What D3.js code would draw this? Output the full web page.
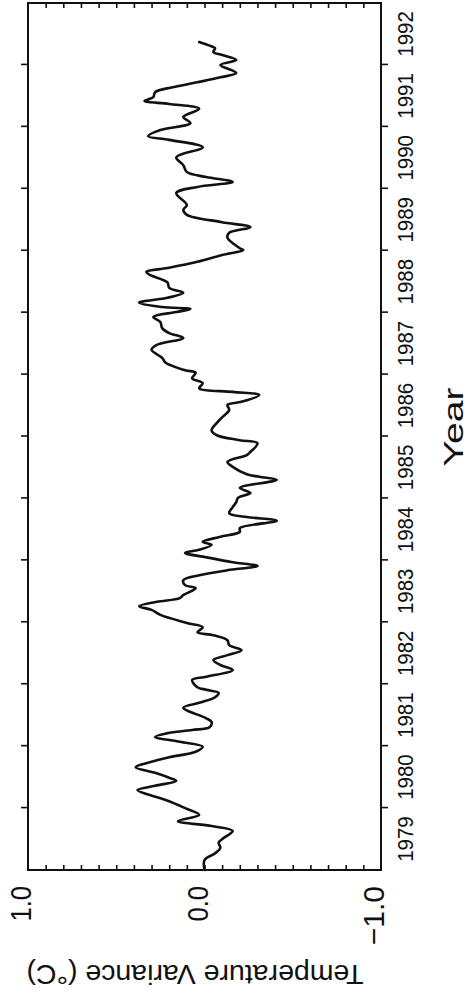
<!DOCTYPE html>
<html>
<head>
<meta charset="utf-8">
<script src="https://cdn.jsdelivr.net/npm/d3@7"></script>
<style>
  html, body { margin: 0; padding: 0; background: #fff; }
  svg { display: block; }
  text { font-family: "Liberation Sans", Arial, Helvetica, sans-serif; fill: #111; }
</style>
</head>
<body>
<script>
// ---- data ----
const timeYears = [
  1979.00, 1979.16, 1979.27, 1979.36, 1979.44, 1979.52, 1979.63, 1979.71, 1979.79, 1979.89,
  1980.00, 1980.13, 1980.21, 1980.29, 1980.36, 1980.44, 1980.49, 1980.57, 1980.66, 1980.74,
  1980.82, 1980.91, 1980.99, 1981.07, 1981.15, 1981.21, 1981.26, 1981.31, 1981.39, 1981.45,
  1981.62, 1981.70, 1981.79, 1981.86, 1981.91, 1981.95, 1982.07, 1982.12, 1982.23, 1982.31,
  1982.39, 1982.47, 1982.55, 1982.63, 1982.71, 1982.79, 1982.84, 1982.92, 1982.99, 1983.12,
  1983.20, 1983.26, 1983.33, 1983.39, 1983.44, 1983.55, 1983.60, 1983.68, 1983.76, 1983.84,
  1983.91, 1983.97, 1984.05, 1984.12, 1984.17, 1984.25, 1984.30, 1984.38, 1984.46, 1984.52,
  1984.64, 1984.70, 1984.76, 1984.86, 1984.94, 1985.01, 1985.09, 1985.17, 1985.30, 1985.35,
  1985.39, 1985.51, 1985.59, 1985.70, 1985.75, 1985.89, 1985.94, 1986.02, 1986.10, 1986.22,
  1986.31, 1986.43, 1986.51, 1986.56, 1986.67, 1986.72, 1986.78, 1986.86, 1986.94, 1987.03,
  1987.07, 1987.19, 1987.27, 1987.40, 1987.48, 1987.59, 1987.67, 1987.75, 1987.85, 1987.93,
  1988.01, 1988.06, 1988.09, 1988.16, 1988.24, 1988.32, 1988.40, 1988.49, 1988.61, 1988.66,
  1988.72, 1988.82, 1988.93, 1989.01, 1989.04, 1989.21, 1989.29, 1989.38, 1989.46, 1989.58,
  1989.66, 1989.74, 1989.93, 1990.03, 1990.11, 1990.19, 1990.27, 1990.38, 1990.51, 1990.67,
  1990.79, 1990.85, 1990.95, 1991.06, 1991.16, 1991.29, 1991.37, 1991.42, 1991.48, 1991.56,
  1991.64, 1991.72, 1991.80, 1991.87, 1992.00, 1992.08, 1992.16, 1992.21, 1992.27, 1992.32,
  1992.37
];
const tempVariance = [
   0.00,  0.00, -0.06, -0.09, -0.08, -0.11, -0.16, -0.04,  0.15,  0.03,
   0.11,  0.22,  0.31,  0.38,  0.28,  0.16,  0.20,  0.28,  0.39,  0.31,
   0.20,  0.05,  0.01,  0.14,  0.28,  0.21,  0.07, -0.03, -0.04, -0.01,
   0.12,  0.03, -0.06, -0.08, -0.01,  0.04,  0.07, -0.01, -0.16, -0.09,
  -0.05, -0.13, -0.21, -0.14, -0.13, -0.05,  0.04,  0.01,  0.10,  0.25,
   0.30,  0.37,  0.27,  0.14,  0.12,  0.05,  0.11,  0.12,  0.03, -0.13,
  -0.30, -0.16, -0.01,  0.11,  0.03, -0.04,  0.01, -0.09, -0.20, -0.20,
  -0.41, -0.24, -0.14, -0.16, -0.18, -0.19, -0.26, -0.20, -0.41, -0.31,
  -0.24, -0.16, -0.13, -0.24, -0.26, -0.30, -0.20, -0.07, -0.04, -0.07,
  -0.10, -0.14, -0.13, -0.21, -0.31, -0.16,  0.03,  0.01,  0.07,  0.05,
   0.11,  0.22,  0.24,  0.30,  0.27,  0.12,  0.20,  0.24,  0.25,  0.29,
   0.16,  0.08,  0.24,  0.37,  0.21,  0.12,  0.20,  0.21,  0.31,  0.33,
   0.21,  0.04, -0.10, -0.22, -0.20, -0.13, -0.14, -0.26, -0.10,  0.10,
   0.12,  0.10,  0.16,  0.04, -0.16, -0.01,  0.10,  0.12,  0.16,  0.01,
   0.20,  0.32,  0.25,  0.08,  0.12,  0.03,  0.20,  0.34,  0.29,  0.28,
   0.18,  0.04, -0.09, -0.18, -0.09, -0.18, -0.10, -0.05, -0.06, -0.02,
   0.03
];
const yearTicks = [1980, 1981, 1982, 1983, 1984, 1985, 1986, 1987, 1988, 1989, 1990, 1991, 1992];
const yearLabels = [1979, 1980, 1981, 1982, 1983, 1984, 1985, 1986, 1987, 1988, 1989, 1990, 1991, 1992];
const valueTicks = [-0.9, -0.8, -0.7, -0.6, -0.5, -0.4, -0.3, -0.2, -0.1, 0.0,
                     0.1, 0.2, 0.3, 0.4, 0.5, 0.6, 0.7, 0.8, 0.9];
const valueLabels = [1.0, 0.0, -1.0];
const valueLabelText = ["1.0", "0.0", "\u22121.0"];
const xTitle = "Year";
const yTitle = "Temperature Variance (\u00B0C)";

// ---- drawing ----
const W = 469, H = 999;
const svg = d3.select("body").append("svg").attr("width", W).attr("height", H);
svg.append("rect").attr("width", W).attr("height", H).attr("fill", "#fff");

// the whole chart is drawn in its own frame and turned a quarter turn counter-clockwise
const g = svg.append("g").attr("transform", `translate(0,${H}) rotate(-90)`);

const x = d3.scaleLinear().domain([1979, 1993]).range([129, 996]);
const y = d3.scaleLinear().domain([-1, 1]).range([381, 28]);

function styleAxis(sel) {
  sel.select(".domain").remove();
  sel.selectAll(".tick line").attr("stroke", "#111").attr("stroke-width", 1.6);
  sel.selectAll(".tick text").remove();
}

// year ticks (outward) on bottom and top of the unrotated chart
g.append("g").attr("transform", `translate(0,${y(-1)})`)
  .call(d3.axisBottom(x).tickValues(yearTicks).tickSize(7).tickSizeOuter(0)).call(styleAxis);
g.append("g").attr("transform", `translate(0,${y(1)})`)
  .call(d3.axisTop(x).tickValues(yearTicks).tickSize(7).tickSizeOuter(0)).call(styleAxis);

// value ticks (inward) on left and right
g.append("g").attr("transform", `translate(${x(1979)},0)`)
  .call(d3.axisLeft(y).tickValues(valueTicks).tickSize(-5).tickSizeOuter(0)).call(styleAxis);
g.append("g").attr("transform", `translate(${x(1993)},0)`)
  .call(d3.axisRight(y).tickValues(valueTicks).tickSize(-5).tickSizeOuter(0)).call(styleAxis);

// frame
g.append("rect")
  .attr("x", x(1979)).attr("y", y(1))
  .attr("width", x(1993) - x(1979)).attr("height", y(-1) - y(1))
  .attr("fill", "none").attr("stroke", "#111").attr("stroke-width", 2);

// series line
const pts = timeYears.map((t, i) => [t, tempVariance[i]]);
const line = d3.line()
  .x(d => x(d[0])).y(d => y(d[1]))
  .curve(d3.curveCatmullRom.alpha(0.5));
g.append("path").datum(pts)
  .attr("d", line)
  .attr("fill", "none").attr("stroke", "#111")
  .attr("stroke-width", 2.6).attr("stroke-linejoin", "round").attr("stroke-linecap", "round");

// year labels centred in each year interval
g.selectAll("text.year").data(yearLabels).enter().append("text")
  .attr("class", "year")
  .attr("transform", d => `translate(${x(d + 0.5)},413) scale(0.93,1)`)
  .attr("text-anchor", "middle")
  .attr("font-size", 22)
  .text(d => d);

// value labels
g.selectAll("text.val").data(valueLabels).enter().append("text")
  .attr("class", "val")
  .attr("transform", (d, i) => `translate(113,${y(d) + 3}) scale(${d < 0 ? 1.0 : 0.85},1)`)
  .attr("text-anchor", "end")
  .attr("font-size", 30)
  .text((d, i) => valueLabelText[i]);

// axis titles
g.append("text")
  .attr("transform", `translate(572,463) scale(1.45,1)`)
  .attr("text-anchor", "middle")
  .attr("font-size", 27)
  .text(xTitle);

g.append("text")
  .attr("transform", `translate(34,195) rotate(-90)`)
  .attr("text-anchor", "middle")
  .attr("font-size", 28.5)
  .text(yTitle);
</script>
</body>
</html>
